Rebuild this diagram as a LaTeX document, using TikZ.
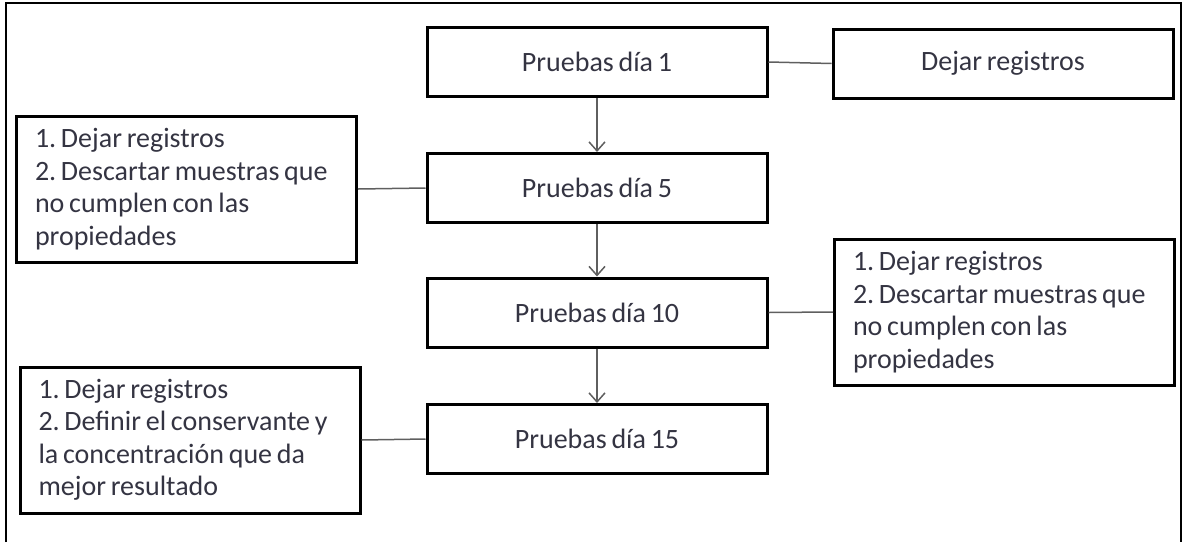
\documentclass[tikz,border=0pt]{standalone}
\usepackage{fontspec}
\setmainfont{Carlito}[WordSpace=0.75]
\frenchspacing
\usetikzlibrary{arrows.meta}
\definecolor{txt}{RGB}{52,52,66}
\definecolor{conn}{RGB}{95,95,95}
\begin{document}
\begin{tikzpicture}[x=1pt,y=-1pt,
  every node/.style={font=\fontsize{28}{32.5}\selectfont, text=txt},
  stage/.style={draw=black, line width=3pt, minimum width=340pt, minimum height=69pt, inner sep=0pt},
  note/.style={draw=black, line width=3pt, minimum width=340pt, minimum height=146pt,
               text width=303pt, inner xsep=18.5pt, inner ysep=0pt, align=flush left},
  link/.style={draw=conn, line width=1.5pt},
  flow/.style={link, -{Straight Barb[length=9pt,width=16pt,line width=1.5pt]}}
]
\useasboundingbox (0,0) rectangle (1184,542);
% page frame (open at the bottom)
\draw[line width=2pt] (6,542) -- (6,3) -- (1181,3) -- (1181,542);

% test stages
\node[stage] (d1)  at (597,62)    {Pruebas día 1};
\node[stage] (d5)  at (597,188)   {Pruebas día 5};
\node[stage] (d10) at (597,312.5) {Pruebas día 10};
\node[stage] (d15) at (597,439)   {Pruebas día 15};

% notes attached to each stage
\node[stage] (r1) at (1003,63.5) {Dejar registros};
\node[note] (l1) at (186.5,189)
  {1. Dejar registros\\2. Descartar muestras que\\no cumplen con las\\propiedades};
\node[note] (r2) at (1004.5,312)
  {1. Dejar registros\\2. Descartar muestras que\\no cumplen con las\\propiedades};
\node[note] (l3) at (190,440)
  {1. Dejar registros\\2. Definir el conservante y\\la concentración que da\\mejor resultado};

% flow between stages
\draw[flow] (d1) -- (d5);
\draw[flow] (d5) -- (d10);
\draw[flow] (d10) -- (d15);

% links to the notes
\draw[link] (d1.east) -- (r1.west);
\draw[link] (l1.east) -- (d5.west);
\draw[link] (d10.east) -- (r2.west);
\draw[link] (l3.east) -- (d15.west);
\end{tikzpicture}
\end{document}
